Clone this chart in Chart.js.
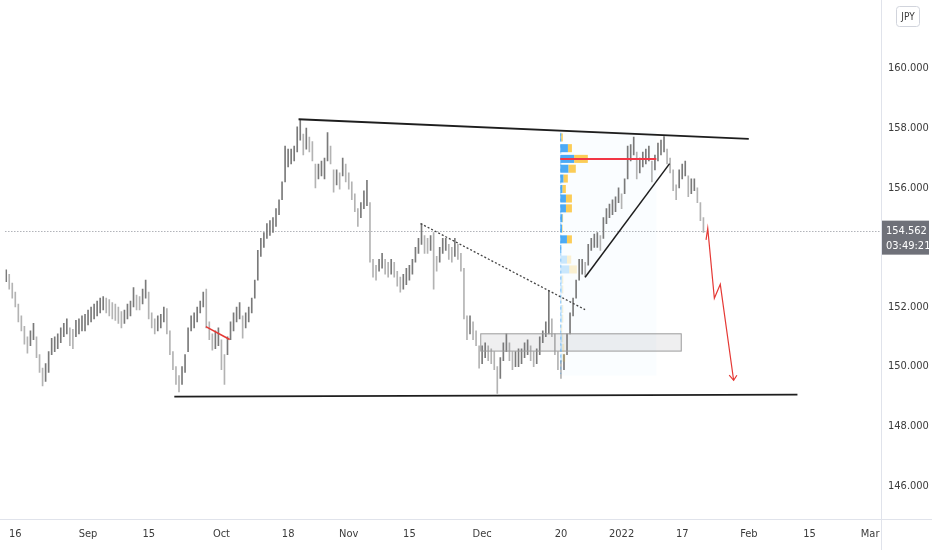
<!DOCTYPE html>
<html>
<head>
<meta charset="utf-8">
<script src="https://cdn.jsdelivr.net/npm/chart.js@4.4.1/dist/chart.umd.min.js"></script>
<style>
  html, body { margin: 0; padding: 0; background: #fff; }
  #wrap { width: 932px; height: 550px; position: relative; }
</style>
</head>
<body>
<div id="wrap"><canvas id="chart"></canvas></div>
<script>
// 12h bars, x = trading day index (0 = 16 Aug 2021)
const barLows = [
  152.85,152.6,152.3,152.0,151.5,151.2,150.75,150.45,150.7,150.9,
  150.3,149.8,149.35,149.5,149.8,150.4,150.5,150.6,150.8,151.0,
  151.1,150.7,150.6,151.0,151.1,151.2,151.2,151.4,151.5,151.6,
  151.7,151.8,151.9,151.8,151.7,151.6,151.55,151.45,151.3,151.45,
  151.6,151.7,152.0,151.9,151.9,152.1,152.3,151.6,151.3,151.1,
  151.2,151.3,151.5,151.1,150.4,149.9,149.4,149.15,149.4,149.8,
  150.5,151.2,151.3,151.5,151.8,152.0,151.3,150.9,150.55,150.6,
  150.7,149.9,149.4,150.4,150.9,151.2,151.5,151.6,150.95,151.3,
  151.5,151.8,152.3,152.9,153.7,154.0,154.3,154.4,154.5,154.7,
  155.1,155.6,156.2,156.7,156.8,156.9,157.2,157.6,157.1,157.3,
  157.2,156.9,156.0,156.3,156.4,156.3,156.9,156.8,155.85,156.1,
  155.95,156.4,156.2,155.95,155.6,155.2,154.7,155.0,155.3,155.4,
  153.5,153.0,152.9,153.2,153.3,153.1,153.0,153.1,153.0,152.7,
  152.5,152.6,152.75,152.9,153.1,153.5,153.8,154.1,153.8,153.8,
  153.9,152.6,153.2,153.5,153.8,153.9,153.6,153.5,153.7,153.6,
  153.2,151.6,150.9,151.1,150.9,150.7,149.95,150.1,150.3,150.2,
  150.1,149.9,149.1,149.6,150.2,150.5,150.2,149.9,150.0,150.0,
  150.1,150.3,150.4,150.2,150.0,150.1,150.4,150.8,151.0,151.1,
  151.0,150.4,149.9,149.6,149.9,150.4,151.1,151.7,152.3,152.9,
  153.1,153.0,153.4,153.9,154.0,154.0,153.9,154.3,154.8,155.0,
  155.1,155.2,155.5,155.3,155.8,156.3,156.9,157.1,156.3,156.5,
  156.7,156.8,156.9,156.2,156.6,156.9,157.1,157.2,156.8,156.5,
  155.9,155.6,156.0,156.3,156.4,155.7,155.8,155.9,155.5,154.9,
  154.5
];
const barHighs = [
  153.25,153.1,152.8,152.5,152.1,151.7,151.35,151.0,151.2,151.45,
  151.0,150.4,149.95,150.1,150.5,150.95,151.0,151.1,151.3,151.45,
  151.6,151.3,151.25,151.55,151.6,151.7,151.75,151.9,152.0,152.1,
  152.2,152.3,152.35,152.3,152.25,152.15,152.1,152.0,151.85,151.9,
  152.1,152.2,152.65,152.4,152.35,152.6,152.9,152.5,151.8,151.6,
  151.7,151.75,152.0,151.95,151.2,150.5,150.0,149.7,150.0,150.4,
  151.3,151.7,151.8,152.0,152.2,152.5,152.6,151.5,151.1,151.2,
  151.3,150.9,150.4,151.0,151.5,151.8,152.0,152.15,151.7,151.8,
  152.0,152.3,152.9,153.9,154.3,154.5,154.8,154.9,155.0,155.3,
  155.6,156.2,157.4,157.3,157.3,157.4,158.05,158.3,157.8,158.0,
  157.7,157.55,156.8,156.8,156.9,157.0,157.85,157.4,156.6,156.6,
  156.5,157.0,156.8,156.5,156.2,155.8,155.3,155.5,155.9,156.25,
  155.5,153.6,153.4,153.6,153.8,153.6,153.5,153.6,153.5,153.2,
  153.0,153.1,153.3,153.4,153.6,154.0,154.3,154.8,154.4,154.3,
  154.4,154.5,153.7,154.0,154.3,154.3,154.1,154.0,154.3,154.1,
  153.8,153.3,151.7,151.7,151.5,151.2,150.7,150.7,150.8,150.7,
  150.6,150.5,150.0,150.3,150.8,151.1,150.8,150.5,150.5,150.6,
  150.6,150.8,150.9,150.7,150.5,150.6,151.0,151.2,151.5,152.55,
  151.6,151.1,150.5,150.2,150.4,151.1,151.8,152.3,152.9,153.6,
  153.6,153.5,154.1,154.3,154.45,154.5,154.4,155.0,155.3,155.45,
  155.6,155.7,156.0,155.8,156.3,157.4,157.45,157.7,157.2,157.0,
  157.2,157.3,157.4,156.9,157.1,157.5,157.6,157.72,157.3,157.0,
  156.6,156.1,156.6,156.8,156.9,156.4,156.3,156.3,156.0,155.5,
  155.0
];
const firstBarDay = -1.5;
const barStep = 0.5;

const tickDays = [0, 12, 22, 34, 45, 55, 65, 77, 90, 100, 110, 121, 131, 141];
const tickLabels = ['16', 'Sep', '15', 'Oct', '18', 'Nov', '15', 'Dec', '20', '2022', '17', 'Feb', '15', 'Mar'];
const priceTicks = [146, 148, 150, 152, 154, 156, 158, 160];

const lastPrice = 154.562;
const countdown = '03:49:21';

// fixed range volume profile (from 20 Dec)
const profilePrices = [157.69,157.33,156.97,156.64,156.31,155.96,155.64,155.31,154.98,154.63,154.27,153.95,
                       153.59,153.26,152.92,152.59,152.26,151.93,151.61,151.28,150.95,150.63,150.30];
const profileBuy  = [1,7.7,14,8.3,3.3,2.3,5.7,5.7,2.3,1.7,6.7,1,6.7,9,2,2,1,2,2,1,2,2,2];
const profileSell = [1.5,4,13.7,7.3,4.3,3.3,6,6,0.5,0.5,5,0,4.3,7.7,1,1,0.5,1,1,1,1,2,3];
const valueAreaRows = 12;

const xMin = -1.639, xMax = 142.787;
const yMin = 144.885, yMax = 161.846;

const font = { family: '"Liberation Sans Narrow", "DejaVu Sans Condensed", Roboto, sans-serif', size: 11 };

const mids = barLows.map((l, i) => (l + barHighs[i]) / 2);
const barColors = mids.map((m, i) => (i > 0 && m < mids[i - 1]) ? '#b3b3b3' : '#7a7a7a');

function seg(points, color, width, dash) {
  return {
    type: 'line',
    data: points.map(p => ({ x: p[0], y: p[1] })),
    borderColor: color, borderWidth: width, borderDash: dash || [],
    pointRadius: 0, fill: false, tension: 0, order: 0
  };
}

const overlay = {
  id: 'overlay',
  beforeDatasetsDraw(chart) {
    const { ctx, chartArea: a, scales: { x, y } } = chart;
    ctx.save();
    // faint profile range box
    ctx.fillStyle = 'rgba(33,150,243,0.025)';
    const bx = x.getPixelForValue(89.89), bx2 = x.getPixelForValue(105.74);
    const by = y.getPixelForValue(157.9), by2 = y.getPixelForValue(149.7);
    ctx.fillRect(bx, by, bx2 - bx, by2 - by);
    // last price dotted line
    const py = Math.round(y.getPixelForValue(lastPrice)) + 0.5;
    ctx.strokeStyle = '#8a8d96';
    ctx.lineWidth = 1;
    ctx.setLineDash([1, 2]);
    ctx.beginPath(); ctx.moveTo(a.left, py); ctx.lineTo(a.right, py); ctx.stroke();
    ctx.restore();
  },
  afterDatasetsDraw(chart) {
    const { ctx, chartArea: a, scales: { x, y } } = chart;
    ctx.save();
    ctx.beginPath(); ctx.rect(a.left, a.top, a.width, a.height); ctx.clip();
    // demand zone box
    const rx = x.getPixelForValue(76.77), rx2 = x.getPixelForValue(109.84);
    const ry = y.getPixelForValue(151.10), ry2 = y.getPixelForValue(150.52);
    ctx.fillStyle = 'rgba(120,123,134,0.12)';
    ctx.fillRect(rx, ry, rx2 - rx, ry2 - ry);
    ctx.strokeStyle = '#9b9b9b';
    ctx.lineWidth = 1;
    ctx.strokeRect(rx, ry, rx2 - rx, ry2 - ry);
    // volume profile
    const x0 = x.getPixelForValue(89.89);
    const dayPerUnit = 1 / 6.1;
    profilePrices.forEach((p, i) => {
      const top = y.getPixelForValue(p + 0.135), bot = y.getPixelForValue(p - 0.135);
      const inVA = i < valueAreaRows;
      const xb = x.getPixelForValue(89.89 + profileBuy[i] * dayPerUnit);
      const xs = x.getPixelForValue(89.89 + (profileBuy[i] + profileSell[i]) * dayPerUnit);
      ctx.fillStyle = inVA ? 'rgba(33,150,243,0.8)' : 'rgba(33,150,243,0.22)';
      ctx.fillRect(x0, top, xb - x0, bot - top);
      ctx.fillStyle = inVA ? 'rgba(251,192,45,0.8)' : 'rgba(251,192,45,0.22)';
      ctx.fillRect(xb, top, xs - xb, bot - top);
    });
    ctx.strokeStyle = 'rgba(33,150,243,0.45)';
    ctx.setLineDash([3, 3]);
    ctx.beginPath();
    ctx.moveTo(x0 + 0.5, y.getPixelForValue(157.85));
    ctx.lineTo(x0 + 0.5, y.getPixelForValue(149.75));
    ctx.stroke();
    ctx.setLineDash([]);
    // point of control
    const pocY = y.getPixelForValue(156.97);
    ctx.strokeStyle = '#f23645';
    ctx.lineWidth = 2;
    ctx.beginPath(); ctx.moveTo(x0, pocY); ctx.lineTo(x.getPixelForValue(105.74), pocY); ctx.stroke();
    ctx.restore();
  },
  afterDraw(chart) {
    const { ctx, chartArea: a, scales: { y } } = chart;
    ctx.save();
    ctx.strokeStyle = '#e0e3eb';
    ctx.lineWidth = 1;
    ctx.beginPath();
    ctx.moveTo(a.right + 0.5, 0); ctx.lineTo(a.right + 0.5, 550);
    ctx.moveTo(0, a.bottom + 0.5); ctx.lineTo(932, a.bottom + 0.5);
    ctx.stroke();
    // last price label
    const py = y.getPixelForValue(lastPrice);
    ctx.fillStyle = '#6f7179';
    ctx.fillRect(a.right + 1, py - 10, 47, 34);
    ctx.fillStyle = '#ffffff';
    ctx.font = font.size + 'px ' + font.family;
    ctx.textAlign = 'left';
    ctx.textBaseline = 'middle';
    ctx.fillText(lastPrice.toFixed(3), a.right + 5, py + 0.5);
    ctx.fillText(countdown, a.right + 5, py + 15);
    // currency badge
    ctx.strokeStyle = '#d1d4dc';
    ctx.beginPath();
    ctx.roundRect(896.5, 6.5, 23, 20, 3);
    ctx.stroke();
    ctx.fillStyle = '#3b3b3b';
    ctx.font = '10px ' + font.family;
    ctx.textAlign = 'center';
    ctx.fillText('JPY', 908, 17);
    ctx.restore();
  }
};

new Chart(document.getElementById('chart'), {
  type: 'bar',
  data: {
    datasets: [
      {
        type: 'bar',
        data: barLows.map((l, i) => ({ x: firstBarDay + i * barStep, y: [l, barHighs[i]] })),
        backgroundColor: barColors,
        barThickness: 1,
        borderWidth: 0,
        order: 2
      },
      seg([[46.72, 158.30], [120.98, 157.64]], '#1e1e1e', 1.8),
      seg([[26.23, 148.99], [129.0, 149.06]], '#1e1e1e', 1.8),
      seg([[31.43, 151.34], [35.36, 150.91]], '#e53935', 1.6),
      seg([[66.84, 154.80], [93.98, 151.91]], '#444444', 1.3, [2, 2]),
      seg([[93.98, 153.00], [107.92, 156.81]], '#1e1e1e', 1.5),
      seg([[113.93, 154.25], [114.21, 154.64], [115.30, 152.29], [116.28, 152.76], [118.48, 149.54]], '#e53935', 1.2),
      seg([[117.75, 149.71], [118.48, 149.54], [119.02, 149.71]], '#e53935', 1.2)
    ]
  },
  options: {
    responsive: true,
    maintainAspectRatio: false,
    animation: false,
    layout: { padding: 0 },
    plugins: { legend: { display: false }, tooltip: { enabled: false } },
    scales: {
      x: {
        type: 'linear', min: xMin, max: xMax, offset: false,
        afterBuildTicks: s => { s.ticks = tickDays.map(v => ({ value: v })); },
        afterFit: s => { s.height = 31; },
        grid: { display: false, drawTicks: false, offset: false },
        border: { display: false },
        ticks: { autoSkip: false, maxRotation: 0, padding: 9, color: '#3b3b3b', font: font,
                 callback: (v, i) => tickLabels[i] }
      },
      y: {
        position: 'right', min: yMin, max: yMax, beginAtZero: false,
        afterBuildTicks: s => { s.ticks = priceTicks.map(v => ({ value: v })); },
        afterFit: s => { s.width = 51; },
        grid: { display: false, drawTicks: false },
        border: { display: false },
        ticks: { padding: 7, color: '#3b3b3b', font: font, callback: v => v.toFixed(3) }
      }
    }
  },
  plugins: [overlay]
});
</script>
</body>
</html>
